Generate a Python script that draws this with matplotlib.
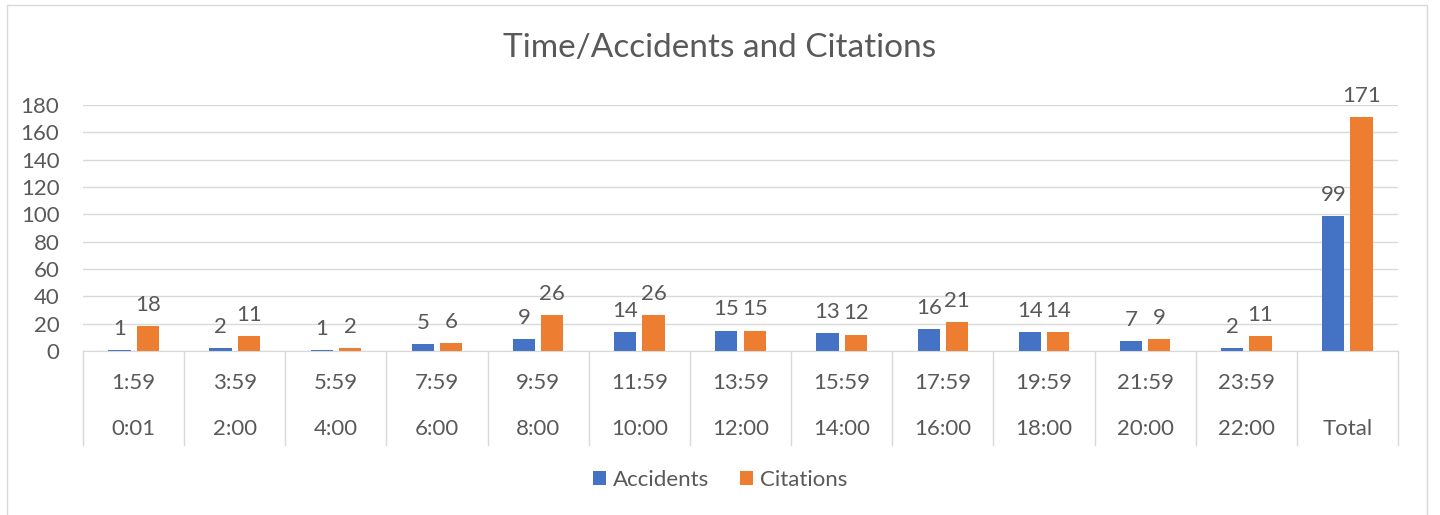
import numpy as np
import matplotlib.pyplot as plt
from matplotlib.patches import Rectangle

plt.rcParams['font.family'] = ['Lato', 'DejaVu Sans']

# data
starts = ['0:01', '2:00', '4:00', '6:00', '8:00', '10:00', '12:00',
          '14:00', '16:00', '18:00', '20:00', '22:00', 'Total']
ends = ['1:59', '3:59', '5:59', '7:59', '9:59', '11:59', '13:59',
        '15:59', '17:59', '19:59', '21:59', '23:59', '']
accidents = [1, 2, 1, 5, 9, 14, 15, 13, 16, 14, 7, 2, 99]
citations = [18, 11, 2, 6, 26, 26, 15, 12, 21, 14, 9, 11, 171]

blue = '#4472C4'
orange = '#ED7D31'
text_col = '#595959'
line_col = '#D9D9D9'
fs = 16

fig = plt.figure(figsize=(14.4, 5.15), dpi=100)
ax = fig.add_axes([83 / 1440, 1 - 351 / 515, (1398 - 83) / 1440, (351 - 105) / 515])

x = np.arange(len(starts))
w = 0.22
off = 0.14
b1 = ax.bar(x - off, accidents, w, color=blue, label='Accidents', zorder=3)
b2 = ax.bar(x + off, citations, w, color=orange, label='Citations', zorder=3)

for bars, vals in ((b1, accidents), (b2, citations)):
    for r, v in zip(bars, vals):
        ax.annotate(str(v), (r.get_x() + r.get_width() / 2, v),
                    xytext=(0, 8), textcoords='offset points',
                    ha='center', va='bottom', fontsize=fs, color=text_col)

ax.set_xlim(-0.5, len(starts) - 0.5)
ax.set_ylim(0, 180)
ax.set_yticks(range(0, 181, 20))
ax.tick_params(axis='y', length=0, labelsize=fs, labelcolor=text_col, pad=17)
ax.set_xticks([])
ax.grid(axis='y', color=line_col, linewidth=1, zorder=0)
for s in ['top', 'right', 'left']:
    ax.spines[s].set_visible(False)
ax.spines['bottom'].set_color(line_col)
ax.spines['bottom'].set_zorder(4)

# multi-level category axis drawn as a table below the plot
trans = ax.get_xaxis_transform()
depth = -94 / 246
for b in np.arange(-0.5, len(starts), 1.0):
    ax.plot([b, b], [0, depth], color=line_col, lw=1, transform=trans, clip_on=False)
for i in x:
    if ends[i]:
        ax.text(i, -32 / 246, ends[i], transform=trans, ha='center', va='center',
                fontsize=fs, color=text_col)
    ax.text(i, -78 / 246, starts[i], transform=trans, ha='center', va='center',
            fontsize=fs, color=text_col)

fig.text(0.5, 1 - 48 / 515, 'Time/Accidents and Citations', ha='center', va='center',
         fontsize=24, color=text_col)

fig.legend(handles=[b1, b2], loc='center', bbox_to_anchor=(0.5, 1 - 480 / 515),
           ncol=2, frameon=False, fontsize=fs, labelcolor=text_col,
           handlelength=0.6, handleheight=0.6, handletextpad=0.3, columnspacing=1.4)

fig.add_artist(Rectangle((7 / 1440, -10 / 515), 1420 / 1440, 520 / 515,
                         transform=fig.transFigure, fill=False,
                         edgecolor=line_col, lw=1))

plt.savefig('out.png', dpi=100)
